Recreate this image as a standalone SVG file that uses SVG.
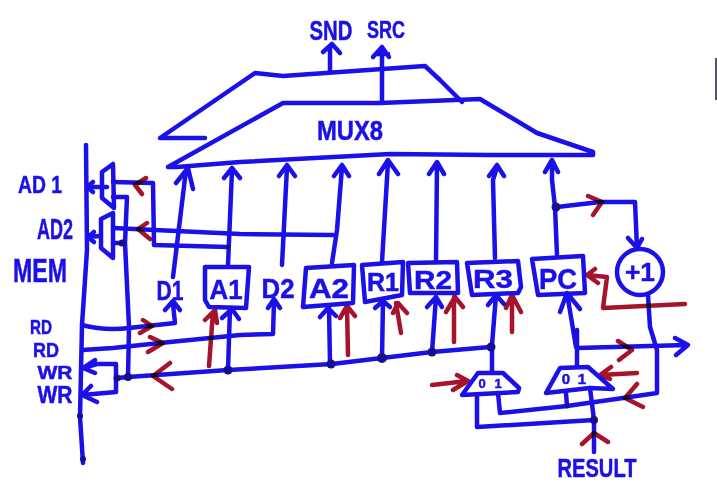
<svg xmlns="http://www.w3.org/2000/svg" width="717" height="500" viewBox="0 0 717 500">
<style>
path,polygon,circle.o{fill:none;stroke-linecap:round;stroke-linejoin:round}
.b{stroke:#1c10e8;stroke-width:4.5}
.r{stroke:#a5142c;stroke-width:4.5;mix-blend-mode:multiply}
.d{fill:#14108c}
text{font-family:"Liberation Sans",Arial,sans-serif;font-weight:bold;fill:#1c10e8;stroke:#1c10e8;stroke-width:.5;text-anchor:middle}
</style>
<rect width="717" height="500" fill="#fff"/>
<g id="connectors">
<path class="b" d="M86 145L87 250L82 325L80 417L83 463"/>
<path class="b" d="M107 187H87M93 182L87 187L93 192M100 236L88 237M94 232L88 237L94 242"/>
<path class="b" d="M113 182L153 183L154 245L228 247"/>
<path class="b" d="M113 228L240 234L333 235"/>
<path class="b" d="M113 197H127L125 243L129 327L128 377M113 243H124"/>
<path class="b" d="M173 277L186 170M176 183L188 168L193 189"/>
<path class="b" d="M82 325Q105 331 129 328L175 323L173 304M165 310L173 301L180 310"/>
<path class="b" d="M82 350L113 348L160 343L240 335L273 334L274 302M268 308L274 299L280 308"/>
<path class="b" d="M490 347L432 352L382 358L332 364L228 370L128 377L117 378M116 365V392M116 364H97L83 368M95 360L83 368L95 373M116 392L82 395M91 386L82 395L97 402"/>
<path class="b" d="M282 265L287 167M279 176L287 165L295 176"/>
<path class="b" d="M228 265L232 170M224 178L232 168L240 178"/>
<path class="b" d="M332 263L337 230L342 167M334 176L342 165L349 176"/>
<path class="b" d="M382 262L388 162M379 174L388 160L398 174"/>
<path class="b" d="M436 262L437 164M429 174L437 162L444 174"/>
<path class="b" d="M495 258L493 180L497 167M489 176L497 165L504 176"/>
<path class="b" d="M557 255L555 207L552 180L552 162M545 172L552 160L558 172"/>
<path class="b" d="M330 72V46M323 52L332 44L340 53"/>
<path class="b" d="M382 102V49M373 57L382 47L389 57M376 54L388 54"/>
<path class="b" d="M230 308L228 370M222 318L232 309L239 319"/>
<path class="b" d="M329 308L330 363M320 317L328 308L336 316"/>
<path class="b" d="M383 300L382 358M375 308L383 301L390 307"/>
<path class="b" d="M436 297L432 352M427 307L436 297L442 307"/>
<path class="b" d="M496 295L492 345M488 305L496 295L504 304"/>
<path class="b" d="M576 347L567 293M560 312L567 293L580 309"/>
<path class="b" d="M557 207L600 202H635L637 248M628 238L637 248L642 239"/>
<path class="b" d="M648 295L650 327L657 350V393L623 398L567 406L500 413L498 393M566 393L567 406"/>
<path class="b" d="M577 330V366M577 348L687 345M675 338L688 345L676 355"/>
<path class="b" d="M492 347V372"/>
<path class="b" d="M477 395V427L594 420M590 388L594 420V452"/>
<circle class="d" cx="122" cy="243" r="3.5"/><circle class="d" cx="128" cy="377" r="4"/><circle class="d" cx="117" cy="378" r="3.5"/><circle class="d" cx="228" cy="370" r="4.5"/><circle class="d" cx="331" cy="364" r="4.5"/><circle class="d" cx="382" cy="358" r="5"/><circle class="d" cx="432" cy="352" r="4.5"/><circle class="d" cx="491" cy="347" r="4.5"/><circle class="d" cx="556" cy="207" r="4.5"/><circle class="d" cx="594" cy="420" r="4"/><circle class="d" cx="567" cy="406" r="2.5"/><circle class="d" cx="228" cy="247" r="2.5"/><circle class="d" cx="80" cy="416" r="3"/><circle class="d" cx="83" cy="459" r="3"/>
<path class="r" d="M146 178L135 185L142 194M147 223L138 229L150 239M143 320L152 326L140 333M150 337L163 343L148 352M170 363L153 376L172 389"/>
<path class="r" d="M209 366L213 312M205 320L215 310L217 323M348 355L347 307M340 318L347 306L355 316M401 333L396 303M393 313L398 303L407 313M454 342V297M446 312L455 297L463 307M512 332V297M506 308L512 295L521 312"/>
<path class="r" d="M685 304L603 308L607 277L587 275M595 269L587 275L598 283M588 196L602 202L593 215M618 341L632 350L619 360"/>
<path class="r" d="M637 384L625 398L643 407M432 385L467 381M457 375L468 381L453 390M637 373L600 375M611 367L600 375L610 379M582 444L594 433L608 442"/>
</g>
<g id="mem"><text x="40" y="282" font-size="33" textLength="54" lengthAdjust="spacingAndGlyphs">MEM</text></g>
<g id="ad1"><text x="40" y="193" font-size="24" textLength="44" lengthAdjust="spacingAndGlyphs">AD 1</text></g>
<g id="ad2"><text x="55" y="239" font-size="29" textLength="36" lengthAdjust="spacingAndGlyphs">AD2</text></g>
<g id="rd1"><text x="41" y="334" font-size="21" textLength="22" lengthAdjust="spacingAndGlyphs">RD</text></g>
<g id="rd2"><text x="46" y="357" font-size="20" textLength="26" lengthAdjust="spacingAndGlyphs">RD</text></g>
<g id="wr1"><text x="55" y="379" font-size="19" textLength="35" lengthAdjust="spacingAndGlyphs">WR</text></g>
<g id="wr2"><text x="55" y="403" font-size="23" textLength="35" lengthAdjust="spacingAndGlyphs">WR</text></g>
<g id="mux-ad1"><polygon class="b" points="102,172 113,164 114,208 102,198"/></g>
<g id="mux-ad2"><polygon class="b" points="101,219 113,213 113,258 101,248"/></g>
<g id="mux-back"><path class="b" d="M205 138L160 138L255 73L283 76L425 66L440 80L462 102"/></g>
<g id="mux8"><polygon class="b" points="168,167 283,103 380,103 480,99 537,133 593,152 593,155 490,155 390,154 240,162 177,167"/><text x="350" y="140" font-size="27" textLength="66" lengthAdjust="spacingAndGlyphs">MUX8</text></g>
<g id="snd"><text x="331" y="40" font-size="27" textLength="43" lengthAdjust="spacingAndGlyphs">SND</text></g>
<g id="src"><text x="386" y="38" font-size="23" textLength="38" lengthAdjust="spacingAndGlyphs">SRC</text></g>
<g id="d1"><text x="170" y="300" font-size="27" textLength="27" lengthAdjust="spacingAndGlyphs">D1</text></g>
<g id="d2"><text x="278" y="298" font-size="27" textLength="33" lengthAdjust="spacingAndGlyphs">D2</text></g>
<g id="a1"><polygon class="b" points="205,267 249,267 246,308 209,307 205,300"/><text x="226" y="299" font-size="27" textLength="33" lengthAdjust="spacingAndGlyphs">A1</text></g>
<g id="a2"><polygon class="b" points="306,268 354,265 353,303 303,307"/><text x="329" y="298" font-size="27" textLength="40" lengthAdjust="spacingAndGlyphs">A2</text></g>
<g id="r1"><polygon class="b" points="362,265 403,262 402,295 365,302"/><text x="383" y="291" font-size="25" textLength="32" lengthAdjust="spacingAndGlyphs">R1</text></g>
<g id="r2"><polygon class="b" points="408,263 457,262 458,293 410,293"/><text x="433" y="289" font-size="25" textLength="38" lengthAdjust="spacingAndGlyphs">R2</text></g>
<g id="r3"><polygon class="b" points="467,263 518,261 521,287 518,293 472,295"/><text x="493" y="288" font-size="25" textLength="40" lengthAdjust="spacingAndGlyphs">R3</text></g>
<g id="pc"><polygon class="b" points="532,259 583,256 585,293 538,295"/><text x="558" y="289" font-size="29" textLength="38" lengthAdjust="spacingAndGlyphs">PC</text></g>
<g id="inc"><circle class="b o" cx="640" cy="272" r="23"/><text x="640" y="281" font-size="26" textLength="30" lengthAdjust="spacingAndGlyphs">+1</text></g>
<g id="mux-left"><polygon class="b" points="478,373 503,373 519,388 518,392 462,395"/><text x="482" y="388" font-size="13">0</text><text x="498" y="388" font-size="13">1</text></g>
<g id="mux-right"><polygon class="b" points="560,368 588,367 613,389 590,388 546,393"/><text x="566" y="384" font-size="15">0</text><text x="582" y="384" font-size="15">1</text></g>
<g id="result"><text x="597" y="477" font-size="26" textLength="79" lengthAdjust="spacingAndGlyphs">RESULT</text></g>
<rect x="715" y="58" width="2" height="42" fill="#55555f"/>
</svg>
